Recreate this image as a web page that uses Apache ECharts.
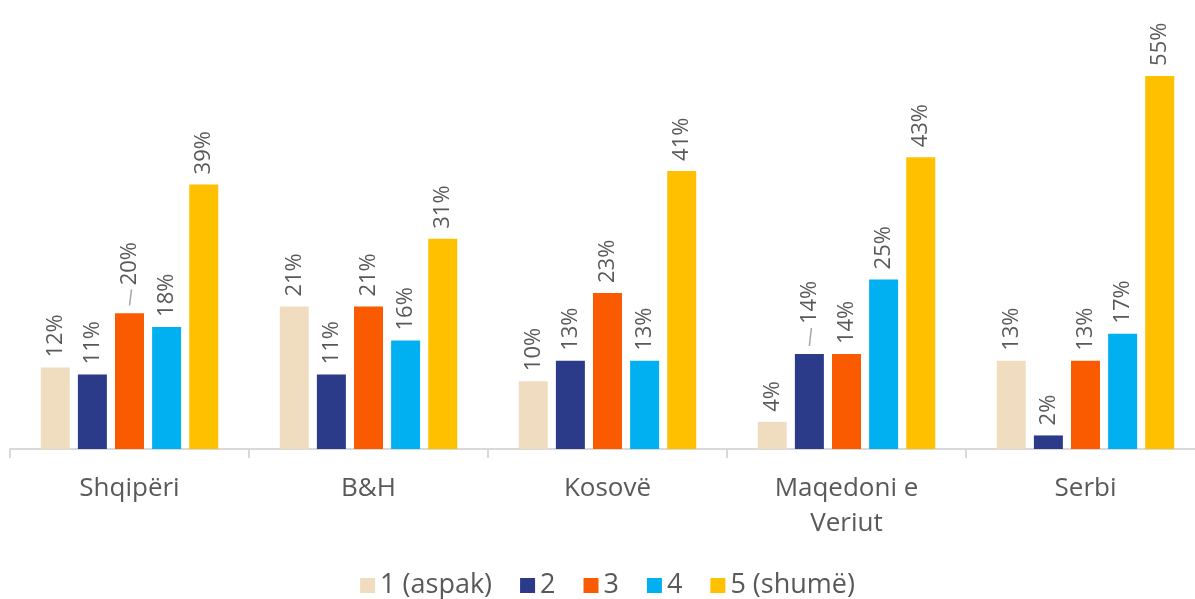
<!DOCTYPE html>
<html>
<head>
<meta charset="utf-8">
<script src="https://cdn.jsdelivr.net/npm/echarts@6/dist/echarts.min.js"></script>
<style>html,body{margin:0;padding:0;background:#fff;overflow:hidden;width:1195px;height:599px}#c{width:1215px;height:599px}</style>
</head>
<body>
<div id="c"></div>
<script>
var categories = ['Shqipëri', 'B&H', 'Kosovë', 'Maqedoni e\nVeriut', 'Serbi'];
var seriesNames = ['1 (aspak)', '2', '3', '4', '5 (shumë)'];
var s1 = [12, 21, 10, 4, 13];
var s2 = [11, 11, 13, 14, 2];
var s3 = [20, 21, 23, 14, 13];
var s4 = [18, 16, 13, 25, 17];
var s5 = [39, 31, 41, 43, 55];
var colors = ['#F0DDC0', '#2C3A8A', '#FA5A00', '#00B0F0', '#FFC000'];

var font = '"Open Sans", "Noto Sans", sans-serif';
var textColor = '#595959';
var allData = [s1, s2, s3, s4, s5];
// labels that sit further above their bar in the original: "seriesIndex_dataIndex"
var raised = { '2_0': 28, '1_3': 30 };

var chart = echarts.init(document.getElementById('c'));
var series = allData.map(function (d, i) {
  return {
    name: seriesNames[i],
    type: 'bar',
    data: d.map(function (v, j) {
      var k = i + '_' + j;
      if (raised[k]) {
        return { value: v, label: { distance: raised[k] } };
      }
      return v;
    }),
    barWidth: 29,
    barGap: '28%',
    itemStyle: { color: colors[i] },
    label: {
      show: true,
      position: 'top',
      rotate: 90,
      align: 'left',
      verticalAlign: 'middle',
      distance: 10,
      formatter: '{c}%',
      fontFamily: font,
      fontSize: 22,
      color: textColor
    }
  };
});

chart.setOption({
  animation: false,
  color: colors,
  grid: { left: 10, right: 10, top: 42, bottom: 150, containLabel: false },
  legend: {
    data: seriesNames,
    top: 567,
    left: 'center',
    itemWidth: 15,
    itemHeight: 15,
    itemGap: 28,
    icon: 'rect',
    textStyle: { fontFamily: font, fontSize: 27, color: textColor }
  },
  xAxis: {
    type: 'category',
    data: categories,
    axisLine: { lineStyle: { color: '#d9d9d9', width: 2 } },
    axisTick: { show: true, length: 9, lineStyle: { color: '#d9d9d9', width: 2 } },
    axisLabel: {
      fontFamily: font,
      fontSize: 26,
      color: textColor,
      margin: 22,
      lineHeight: 35
    }
  },
  yAxis: {
    type: 'value',
    min: 0,
    max: 60,
    show: false,
    splitLine: { show: false }
  },
  series: series
});

// leader lines for the raised labels, positioned via the chart's own scales
var lines = [];
Object.keys(raised).forEach(function (k) {
  var p = k.split('_');
  var si = +p[0], di = +p[1];
  var v = allData[si][di];
  var top = chart.convertToPixel({ gridIndex: 0 }, [di, v]);
  var step = 29 * 1.28;
  var x = top[0] + (si - 2) * step;
  lines.push({
    type: 'line',
    silent: true,
    shape: { x1: x, y1: top[1] - 8, x2: x + 2, y2: top[1] - raised[k] + 4 },
    style: { stroke: '#a6a6a6', lineWidth: 1.5 }
  });
});
chart.setOption({ graphic: lines });
</script>
</body>
</html>
